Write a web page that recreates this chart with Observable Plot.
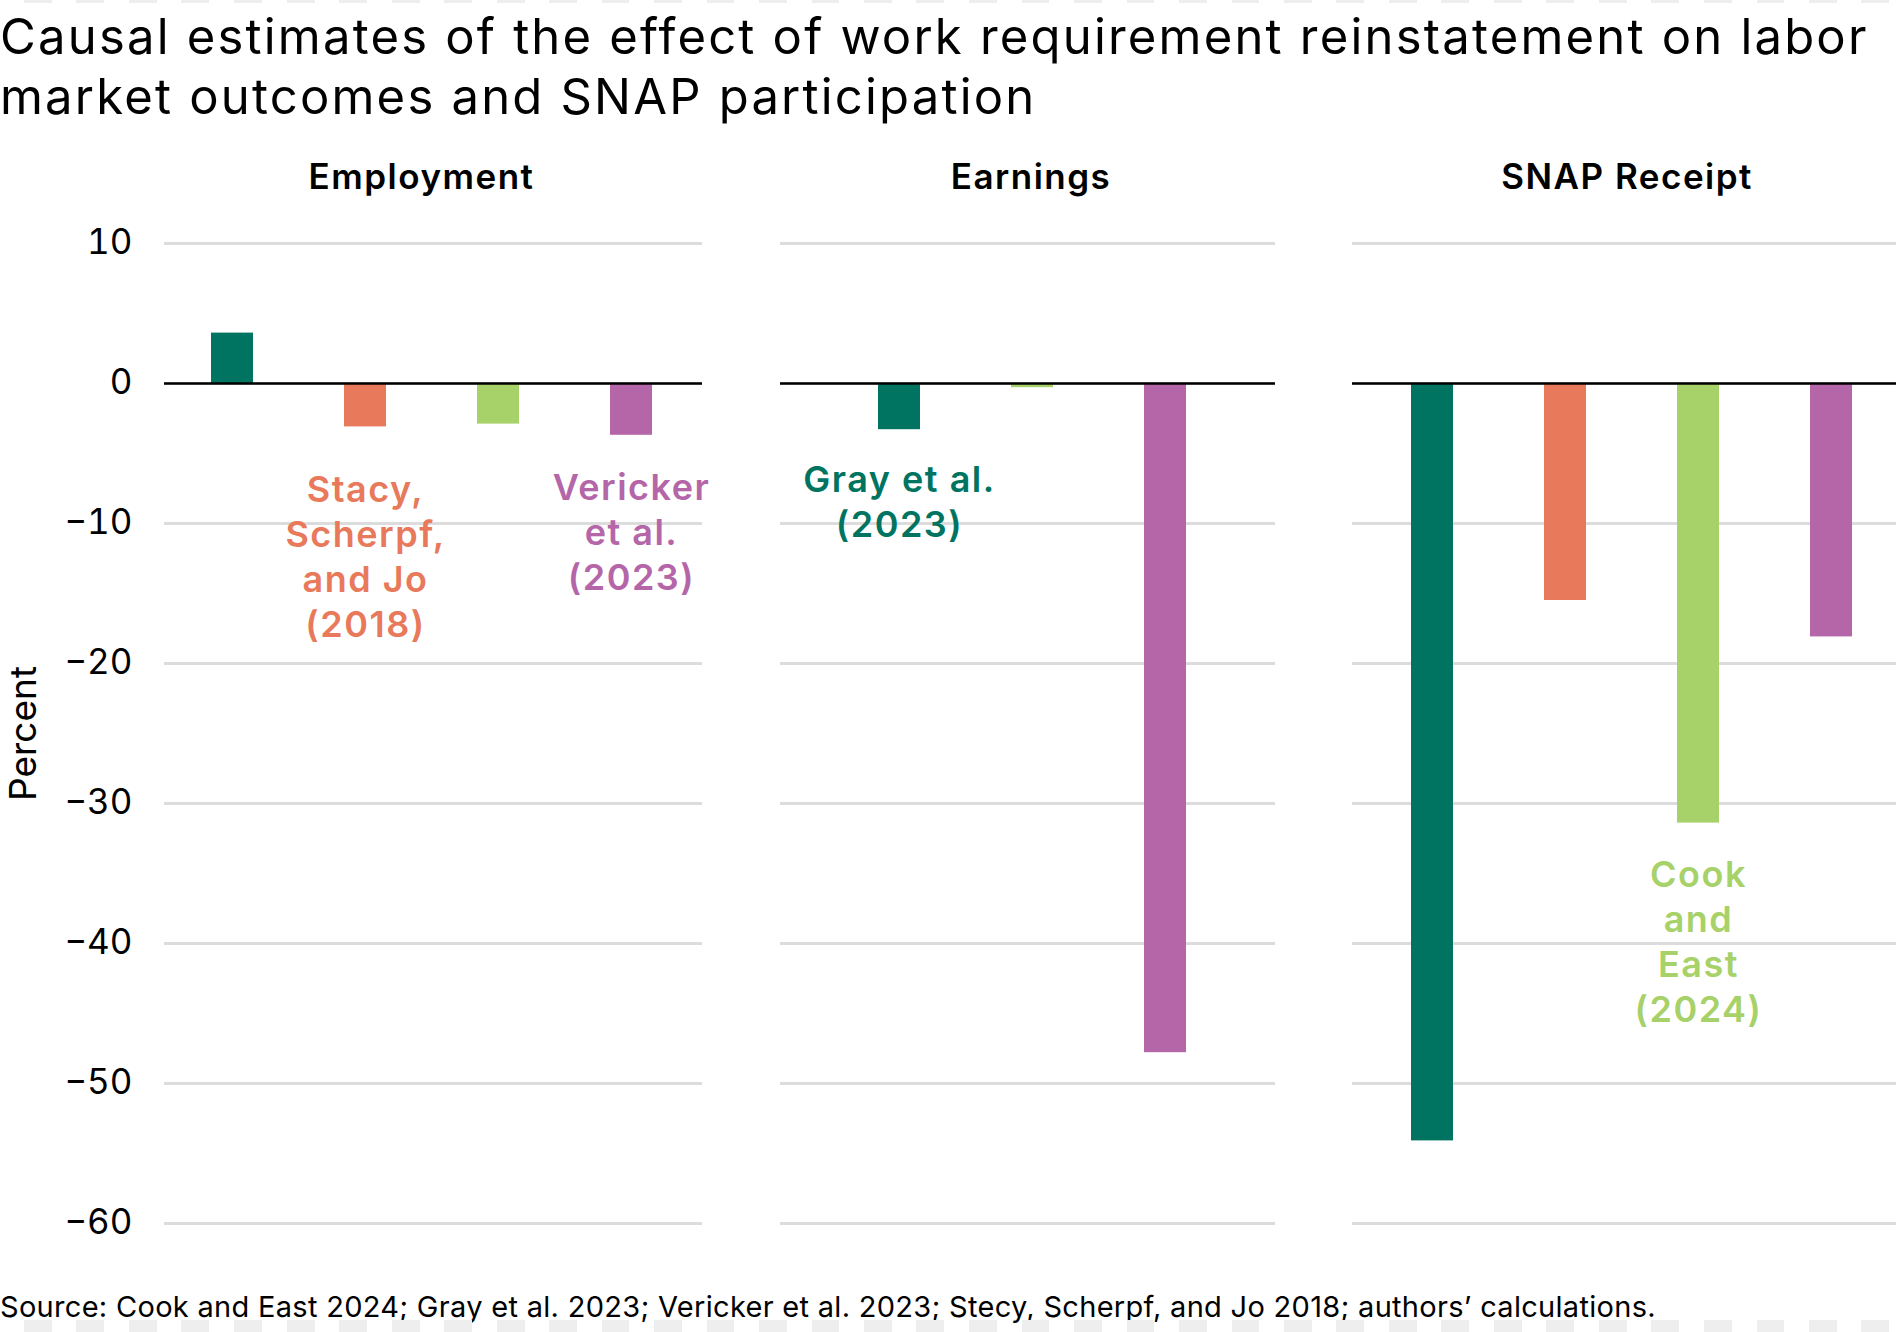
<!DOCTYPE html>
<html>
<head>
<meta charset="utf-8">
<script src="https://cdn.jsdelivr.net/npm/d3@7"></script>
<script src="https://cdn.jsdelivr.net/npm/@observablehq/plot@0.6"></script>
<style>
  html, body { margin: 0; padding: 0; background: #fff; }
  body { width: 1896px; height: 1332px; overflow: hidden; position: relative; font-family: Inter, "Noto Sans", sans-serif; color: #000; }
  #title { position: absolute; left: 0; top: 7px; font-size: 49px; line-height: 60px; font-weight: 400; letter-spacing: 2.2px; white-space: nowrap; }
  #caption { position: absolute; left: 0; top: 1290px; font-size: 29px; line-height: 34px; letter-spacing: 0.3px; white-space: nowrap; }
  .band { position: absolute; left: 0; width: 1896px;
    background: repeating-linear-gradient(to right, transparent 0px, transparent 24px, #eeeeee 24px, #eeeeee 52px, transparent 52px, transparent 52.5px); }
  .panel { position: absolute; top: 140px; }
  .panel svg { overflow: visible; }
  .panel g[aria-label="text"][font-size="35"] { letter-spacing: 1.5px; }
  .panel g[aria-label="text"][font-size="36"] { letter-spacing: 1.5px; }
</style>
</head>
<body>
<div class="band" style="top:0;height:3px"></div>
<div id="title">Causal estimates of the effect of work requirement reinstatement on labor<br>market outcomes and SNAP participation</div>
<div id="p0" class="panel"></div>
<div id="p1" class="panel"></div>
<div id="p2" class="panel"></div>
<div id="caption">Source: Cook and East 2024; Gray et al. 2023; Vericker et al. 2023; Stecy, Scherpf, and Jo 2018; authors’ calculations.</div>
<div class="band" style="top:1320px;height:12px"></div>
<script>
// ---- data ----
const panels = ["Employment", "Earnings", "SNAP Receipt"];
const studies = ["Gray et al. (2023)", "Stacy, Scherpf, and Jo (2018)", "Cook and East (2024)", "Vericker et al. (2023)"];
const colors = ["#007460", "#e8795a", "#a7d169", "#b466a8"];
const employment = [3.6, -3.1, -2.9, -3.7];
const earnings = [-3.3, null, -0.3, -47.8];
const snapReceipt = [-54.1, -15.5, -31.4, -18.1];
const yTicks = [10, 0, -10, -20, -30, -40, -50, -60];
const labelTexts = ["Gray et al.\n(2023)", "Stacy,\nScherpf,\nand Jo\n(2018)", "Cook\nand\nEast\n(2024)", "Vericker\net al.\n(2023)"];
const labelPanel = ["Earnings", "Employment", "SNAP Receipt", "Employment"];
const labelY = [-5.45, -6.16, -33.7, -6.04];
const yLabel = "Percent";

// ---- layout (styles / positions only) ----
const layout = [
  {left: 0,    width: 702, ml: 164, po: 0.359,  align: 0.483, tdx: -12, axis: true},
  {left: 702,  width: 573, ml: 78,  po: 0.6978, align: 0.523, tdx: 3,   axis: false},
  {left: 1275, width: 621, ml: 77,  po: 0.3815, align: 0.575, tdx: 2.6, axis: false}
];
const seriesByPanel = [employment, earnings, snapReceipt];

panels.forEach((name, p) => {
  const cfg = layout[p];
  const vals = seriesByPanel[p];
  const rows = studies.map((s, i) => ({study: s, value: vals[i]})).filter(d => d.value != null);
  const labs = labelTexts.map((t, i) => ({study: studies[i], text: t, y: labelY[i], panel: labelPanel[i]}))
    .filter(d => d.panel === name);
  const chart = Plot.plot({
    width: cfg.width,
    height: 1110,
    marginTop: 103,
    marginBottom: 27,
    marginLeft: cfg.ml,
    marginRight: 0,
    style: {fontFamily: "Inter", background: "transparent", overflow: "visible", color: "#000"},
    x: {type: "band", domain: rows.map(d => d.study), paddingInner: 0.685, paddingOuter: cfg.po, align: cfg.align, axis: null},
    y: {domain: [-60, 10], axis: null},
    color: {domain: studies, range: colors},
    marks: [
      Plot.gridY(yTicks, {stroke: "#dcdcdc", strokeOpacity: 1, strokeWidth: 3}),
      cfg.axis ? Plot.axisY(yTicks, {tickSize: 0, tickPadding: 32, fontSize: 35, dy: -1, label: null, fill: "#000"}) : null,
      cfg.axis ? Plot.text([yLabel], {frameAnchor: "left", textAnchor: "middle", rotate: -90, dx: -140, fontSize: 37, fill: "#000"}) : null,
      Plot.barY(rows, {x: "study", y: "value", fill: "study"}),
      Plot.ruleY([0], {stroke: "#000", strokeWidth: 2.4}),
      Plot.text(labs, {x: "study", y: "y", text: "text", fill: "study", fontSize: 36, fontWeight: 600, lineAnchor: "top", lineHeight: 1.25}),
      Plot.text([name], {frameAnchor: "top", dx: cfg.tdx, dy: -55, lineAnchor: "bottom", fontSize: 35, fontWeight: 600, fill: "#000"})
    ]
  });
  const host = document.getElementById("p" + p);
  host.style.left = cfg.left + "px";
  host.appendChild(chart);
});
</script>
</body>
</html>
